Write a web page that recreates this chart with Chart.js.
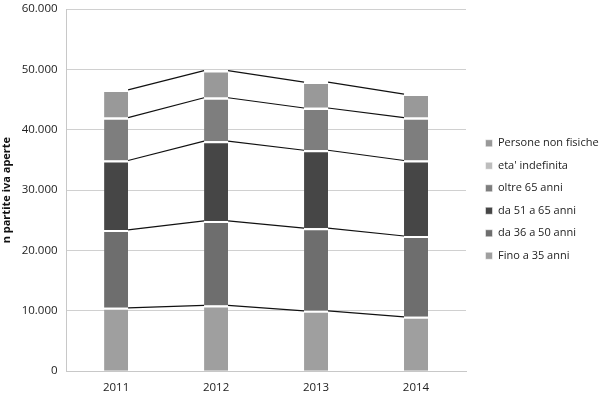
<!DOCTYPE html>
<html>
<head>
<meta charset="utf-8">
<script src="https://cdn.jsdelivr.net/npm/chart.js@4"></script>
<style>
  body { margin: 0; background: #fff; }
</style>
</head>
<body>
<canvas id="stackedBarChart" width="600" height="397"></canvas>
<script>
// Data
const anni = ['2011', '2012', '2013', '2014'];
const finoA35 = [10500, 10900, 10000, 9000];
const da36a50 = [12900, 14000, 13700, 13400];
const da51a65 = [11500, 13200, 12900, 12500];
const oltre65 = [7100, 7200, 7000, 7100];
const etaIndefinita = [40, 40, 40, 40];
const personeNonFisiche = [4560, 4460, 4260, 3860];
const yTicks = [0, 10000, 20000, 30000, 40000, 50000, 60000];

// format numbers like 60.000
function formatIt(v) {
    return String(v).replace(/\B(?=(\d{3})+(?!\d))/g, '.');
}

// Excel style series lines between the stacked bars
const seriesLines = {
    id: 'seriesLines',
    afterDatasetsDraw(chart) {
        const ctx = chart.ctx;
        ctx.save();
        ctx.strokeStyle = '#111';
        ctx.lineWidth = 1.2;
        chart.data.datasets.forEach((ds, d) => {
            if (d === 4) return; // eta' indefinita sits on oltre 65
            const bars = chart.getDatasetMeta(d).data;
            for (let i = 0; i < bars.length - 1; i++) {
                const a = bars[i], b = bars[i + 1];
                ctx.beginPath();
                ctx.moveTo(a.x + a.width / 2, a.y);
                ctx.lineTo(b.x - b.width / 2, b.y);
                ctx.stroke();
            }
        });
        ctx.restore();
    }
};

// fixed legend width, items pushed a bit away from the plot
const legendWidth = 134;
const legendGap = 8;
const legendLift = 3;
const legendShift = {
    id: 'legendShift',
    afterInit(chart) {
        const legend = chart.legend;
        const fit = legend.fit;
        legend.fit = function () {
            fit.call(this);
            this.width = legendWidth;
        };
    },
    afterLayout(chart) {
        const legend = chart.legend;
        legend.left += legendGap;
        legend.right += legendGap;
        legend.top -= legendLift;
        legend.bottom -= legendLift;
    }
};

const ctx = document.getElementById('stackedBarChart').getContext('2d');

const barStyle = {
    borderColor: '#ffffff',
    borderWidth: { top: 2, bottom: 0, left: 0, right: 0 },
    borderSkipped: false,
    barPercentage: 0.48,
    categoryPercentage: 0.5
};

new Chart(ctx, {
    type: 'bar',
    data: {
        labels: anni,
        datasets: [
            Object.assign({ label: 'Fino a 35 anni', backgroundColor: '#9f9f9f', data: finoA35 }, barStyle),
            Object.assign({ label: 'da 36 a 50 anni', backgroundColor: '#6e6e6e', data: da36a50 }, barStyle),
            Object.assign({ label: 'da 51 a 65 anni', backgroundColor: '#464646', data: da51a65 }, barStyle),
            Object.assign({ label: 'oltre 65 anni', backgroundColor: '#7e7e7e', data: oltre65 }, barStyle),
            Object.assign({ label: "eta' indefinita", backgroundColor: '#bdbdbd', data: etaIndefinita }, barStyle),
            Object.assign({ label: 'Persone non fisiche', backgroundColor: '#999999', data: personeNonFisiche }, barStyle)
        ]
    },
    options: {
        responsive: false,
        animation: false,
        layout: { padding: { left: 0, top: 0, right: 0, bottom: -8 } },
        plugins: {
            tooltip: { enabled: false },
            legend: {
                position: 'right',
                reverse: true,
                labels: {
                    boxWidth: 7,
                    boxHeight: 7,
                    padding: 11.5,
                    color: '#222',
                    font: { family: 'Open Sans', size: 11 }
                }
            }
        },
        scales: {
            x: {
                stacked: true,
                grid: { display: false, drawTicks: false },
                border: { color: '#c8c8c8' },
                ticks: { color: '#222', padding: 10, font: { family: 'Open Sans', size: 11.5 } }
            },
            y: {
                stacked: true,
                min: 0,
                max: 60000,
                afterBuildTicks: axis => { axis.ticks = yTicks.map(v => ({ value: v })); },
                afterFit: scale => { scale.paddingTop = 9; },
                grid: { color: '#d0d0d0', drawTicks: false },
                border: { color: '#c8c8c8' },
                title: {
                    display: true,
                    text: 'n partite iva aperte',
                    color: '#111',
                    padding: { top: 0, bottom: 0 },
                    font: { family: 'Open Sans', size: 11, weight: 'bold' }
                },
                ticks: {
                    color: '#222',
                    padding: 8.5,
                    font: { family: 'Open Sans', size: 11.5 },
                    callback: v => formatIt(v)
                }
            }
        }
    },
    plugins: [seriesLines, legendShift]
});
</script>
</body>
</html>
